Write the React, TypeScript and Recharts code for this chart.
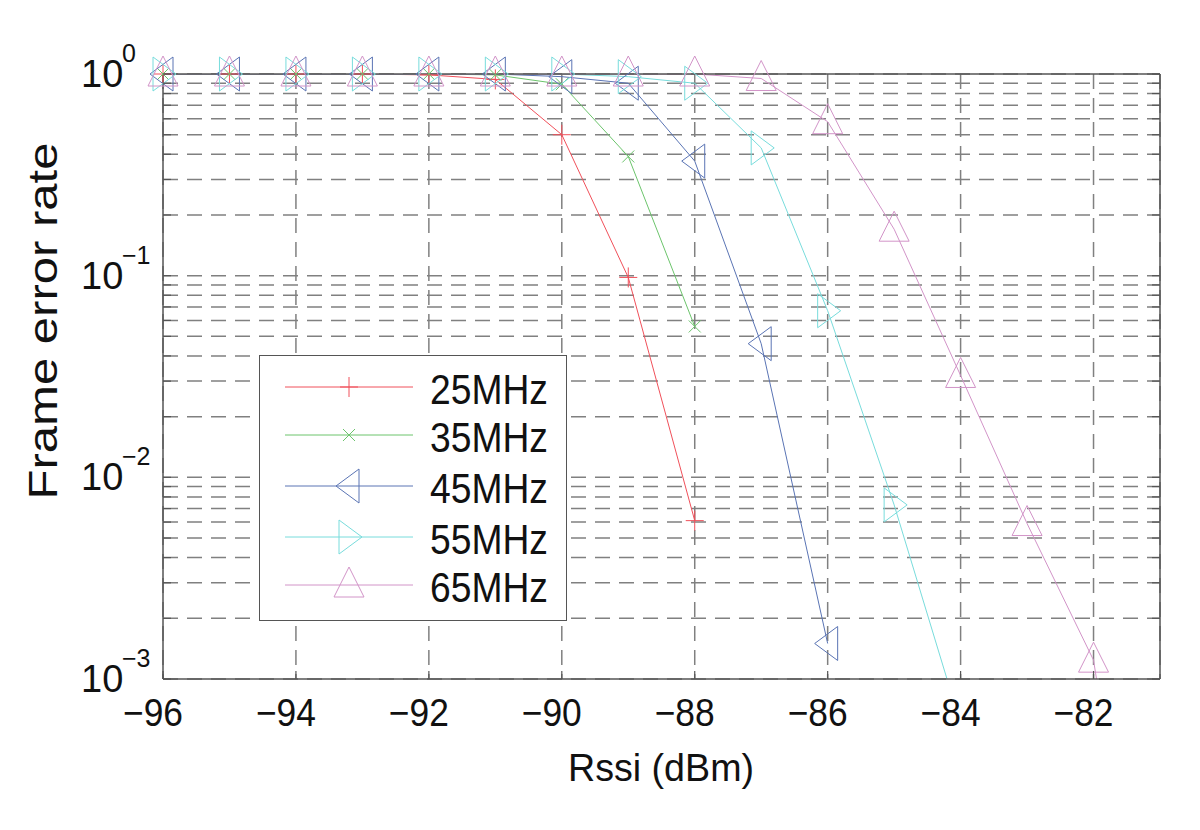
import { CartesianGrid, Legend, Line, LineChart, XAxis, YAxis } from "recharts";

// Rssi (dBm) for each curve
const rssi25 = [-96, -95, -94, -93, -92, -91, -90, -89, -88];
const rssi35 = [-96, -95, -94, -93, -92, -91, -90, -89, -88];
const rssi45 = [-96, -95, -94, -93, -92, -91, -90, -89, -88, -87, -86];
const rssi55 = [-96, -95, -94, -93, -92, -91, -90, -89, -88, -87, -86, -85, -84];
const rssi65 = [-96, -95, -94, -93, -92, -91, -90, -89, -88, -87, -86, -85, -84, -83, -82, -81];

// Frame error rate
const fer25 = [1, 1, 1, 1, 0.99, 0.94, 0.5, 0.098, 0.0061];
const fer35 = [1, 1, 1, 1, 1, 0.99, 0.89, 0.39, 0.056];
const fer45 = [1, 1, 1, 1, 1, 1, 0.97, 0.9, 0.37, 0.046, 0.0015];
const fer55 = [1, 1, 1, 1, 1, 1, 1, 0.97, 0.9, 0.43, 0.067, 0.0073, 0.0006];
const fer65 = [1, 1, 1, 1, 1, 1, 1, 1, 1, 0.95, 0.58, 0.17, 0.032, 0.0059, 0.00124, 0.00001];

const xTicks = [-96, -94, -92, -90, -88, -86, -84, -82];
const yTicks = [
  0.001, 0.002, 0.003, 0.004, 0.005, 0.006, 0.007, 0.008, 0.009,
  0.01, 0.02, 0.03, 0.04, 0.05, 0.06, 0.07, 0.08, 0.09,
  0.1, 0.2, 0.3, 0.4, 0.5, 0.6, 0.7, 0.8, 0.9, 1,
];
const yMajor: Record<number, string> = { 1: "0", 0.1: "\u22121", 0.01: "\u22122", 0.001: "\u22123" };

const PLOT_L = 163;
const PLOT_R = 1160;
const PLOT_T = 74;
const PLOT_B = 679;
const AXIS = "#555";
const FONT = "'Liberation Sans', Arial, sans-serif";

type MarkerKind = "plus" | "cross" | "left" | "right" | "up";

const series = [
  { name: "25MHz", x: rssi25, y: fer25, color: "#f0505a", marker: "plus" as MarkerKind },
  { name: "35MHz", x: rssi35, y: fer35, color: "#6cc46c", marker: "cross" as MarkerKind },
  { name: "45MHz", x: rssi45, y: fer45, color: "#5a74b4", marker: "left" as MarkerKind },
  { name: "55MHz", x: rssi55, y: fer55, color: "#78dcdc", marker: "right" as MarkerKind },
  { name: "65MHz", x: rssi65, y: fer65, color: "#d294c8", marker: "up" as MarkerKind },
];

function markerShape(kind: MarkerKind, cx: number, cy: number, color: string) {
  const p = { fill: "none", stroke: color, strokeWidth: 1 };
  if (kind === "plus")
    return <path d={`M${cx - 9},${cy}H${cx + 9}M${cx},${cy - 10}V${cy + 10}`} {...p} />;
  if (kind === "cross")
    return <path d={`M${cx - 6},${cy - 6}L${cx + 6},${cy + 6}M${cx - 6},${cy + 6}L${cx + 6},${cy - 6}`} {...p} />;
  if (kind === "left")
    return <polygon points={`${cx - 13},${cy} ${cx + 10},${cy - 17} ${cx + 10},${cy + 17}`} {...p} />;
  if (kind === "right")
    return <polygon points={`${cx + 13},${cy} ${cx - 10},${cy - 17} ${cx - 10},${cy + 17}`} {...p} />;
  return <polygon points={`${cx},${cy - 18} ${cx - 15},${cy + 12} ${cx + 15},${cy + 12}`} {...p} />;
}

const makeDot = (kind: MarkerKind, color: string) => (props: any) => {
  const { cx, cy, index } = props;
  if (cx == null || cy == null || isNaN(cx) || isNaN(cy)) return <g key={index} />;
  return <g key={index}>{markerShape(kind, cx, cy, color)}</g>;
};

function LeftTick(props: any) {
  const { y, payload } = props;
  const v = payload.value;
  const exp = yMajor[v];
  return (
    <g>
      <line x1={PLOT_L} x2={PLOT_L + 8} y1={y} y2={y} stroke={AXIS} strokeWidth={1.2} />
      {exp !== undefined && (
        <text fontFamily={FONT} fill="#111">
          <tspan x={81} y={y + 13} fontSize={38}>10</tspan>
          <tspan x={122} y={y - 12} fontSize={25}>{exp}</tspan>
        </text>
      )}
    </g>
  );
}

function RightTick(props: any) {
  const { y } = props;
  return <line x1={PLOT_R - 8} x2={PLOT_R} y1={y} y2={y} stroke={AXIS} strokeWidth={1.2} />;
}

function BottomTick(props: any) {
  const { x, payload } = props;
  return (
    <g>
      <line x1={x} x2={x} y1={PLOT_B - 8} y2={PLOT_B} stroke={AXIS} strokeWidth={1.2} />
      <text
        x={x + 20}
        y={PLOT_B + 47}
        textAnchor="end"
        fontFamily={FONT}
        fontSize={38}
        fill="#111"
        textLength={60}
        lengthAdjust="spacingAndGlyphs"
      >
        {String(payload.value).replace("-", "\u2212")}
      </text>
    </g>
  );
}

function TopTick(props: any) {
  const { x } = props;
  return <line x1={x} x2={x} y1={PLOT_T} y2={PLOT_T + 8} stroke={AXIS} strokeWidth={1.2} />;
}

function LegendBox() {
  const rows = [387, 435, 486, 537, 585];
  const left = 259;
  const top = 355;
  return (
    <svg width={308} height={266} style={{ display: "block" }}>
      <rect x={0.5} y={0.5} width={307} height={265} fill="#fff" stroke={AXIS} strokeWidth={1} />
      {series.map((s, i) => {
        const ry = rows[i] - top;
        return (
          <g key={s.name}>
            <line x1={285 - left} x2={413 - left} y1={ry} y2={ry} stroke={s.color} strokeWidth={1} />
            {markerShape(s.marker, 349 - left, ry, s.color)}
            <text
              x={430 - left}
              y={ry + 17}
              fontFamily={FONT}
              fontSize={42}
              fill="#111"
              textLength={118}
              lengthAdjust="spacingAndGlyphs"
            >
              {s.name}
            </text>
          </g>
        );
      })}
    </svg>
  );
}

export default function App() {
  return (
    <div style={{ position: "absolute", left: 0, top: 0, width: 1200, height: 830, background: "#fff" }}>
      <LineChart width={1200} height={830} margin={{ top: 64, right: 30, bottom: 91, left: 63 }}>
        <CartesianGrid
          xAxisId="b"
          yAxisId="l"
          stroke="#808080"
          strokeWidth={1.5}
          strokeDasharray="15 9"
        />
        <XAxis
          xAxisId="b"
          type="number"
          dataKey="x"
          domain={[-96, -81]}
          ticks={xTicks}
          height={60}
          axisLine={{ stroke: AXIS, strokeWidth: 1.5 }}
          tickLine={false}
          tick={<BottomTick />}
          allowDuplicatedCategory={false}
        />
        <XAxis
          xAxisId="t"
          orientation="top"
          type="number"
          dataKey="x"
          domain={[-96, -81]}
          ticks={xTicks}
          height={10}
          axisLine={{ stroke: AXIS, strokeWidth: 1.5 }}
          tickLine={false}
          tick={<TopTick />}
        />
        <YAxis
          yAxisId="l"
          type="number"
          scale="log"
          domain={[0.001, 1]}
          allowDataOverflow
          ticks={yTicks}
          width={100}
          axisLine={{ stroke: AXIS, strokeWidth: 1.5 }}
          tickLine={false}
          tick={<LeftTick />}
          interval={0}
          label={{
            content: () => (
              <text
                x={57}
                y={321}
                transform="rotate(-90 57 321)"
                textAnchor="middle"
                fontFamily={FONT}
                fontSize={41}
                fill="#111"
                textLength={357}
                lengthAdjust="spacingAndGlyphs"
              >
                Frame error rate
              </text>
            ),
          }}
        />
        <YAxis
          yAxisId="r"
          orientation="right"
          type="number"
          scale="log"
          domain={[0.001, 1]}
          allowDataOverflow
          ticks={yTicks}
          width={10}
          axisLine={{ stroke: AXIS, strokeWidth: 1.5 }}
          tickLine={false}
          tick={<RightTick />}
          interval={0}
        />
        <YAxis yAxisId="m" hide type="number" scale="log" domain={[0.001, 1]} />
        {series.map((s) => (
          <Line
            key={s.name + "-line"}
            xAxisId="b"
            yAxisId="l"
            data={s.x.map((x, i) => ({ x, y: s.y[i] }))}
            dataKey="y"
            type="linear"
            stroke={s.color}
            strokeWidth={1}
            dot={false}
            activeDot={false}
            legendType="none"
            isAnimationActive={false}
          />
        ))}
        {series.map((s) => (
          <Line
            key={s.name + "-marks"}
            xAxisId="b"
            yAxisId="m"
            data={s.x
              .map((x, i) => ({ x, y: s.y[i] }))
              .filter((d) => d.y >= 0.001 && d.y <= 1)}
            dataKey="y"
            stroke="none"
            dot={makeDot(s.marker, s.color)}
            activeDot={false}
            legendType="none"
            isAnimationActive={false}
          />
        ))}
        <Legend
          layout="vertical"
          align="center"
          verticalAlign="middle"
          content={() => <LegendBox />}
          wrapperStyle={{ position: "absolute", left: 259, top: 355, width: 308, height: 266 }}
        />
      </LineChart>
      <svg width={1200} height={830} style={{ position: "absolute", left: 0, top: 0, pointerEvents: "none" }}>
        <text
          x={661}
          y={781}
          textAnchor="middle"
          fontFamily={FONT}
          fontSize={39}
          fill="#111"
          textLength={186}
          lengthAdjust="spacingAndGlyphs"
        >
          Rssi (dBm)
        </text>
      </svg>
    </div>
  );
}
